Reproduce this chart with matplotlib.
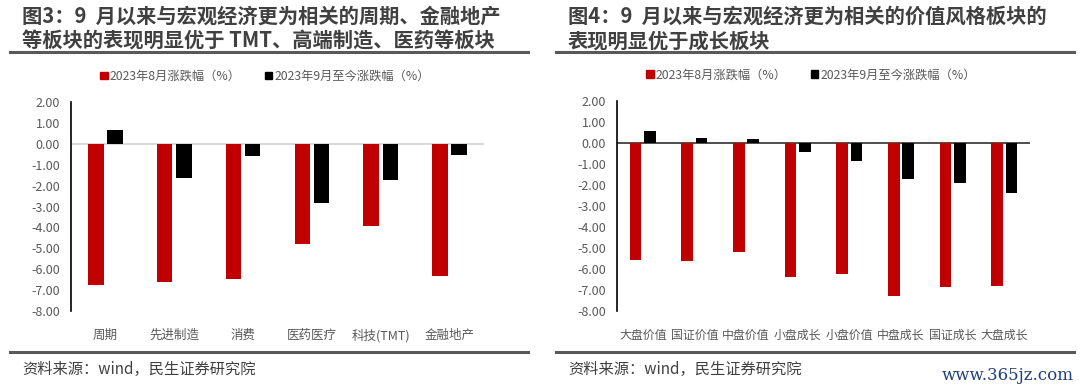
import matplotlib
matplotlib.use("Agg")
import matplotlib.pyplot as plt
from matplotlib.lines import Line2D
from matplotlib.patches import Patch
import numpy as np

plt.rcParams["font.family"] = ["Noto Sans CJK SC", "DejaVu Sans"]
plt.rcParams["axes.unicode_minus"] = False

# figure 3: sectors
sectors = ["周期", "先进制造", "消费", "医药医疗", "科技(TMT)", "金融地产"]
sector_aug = [-6.76, -6.64, -6.49, -4.81, -3.93, -6.33]
sector_sep = [0.69, -1.65, -0.58, -2.85, -1.74, -0.51]

# figure 4: styles
styles = ["大盘价值", "国证价值", "中盘价值", "小盘成长", "小盘价值", "中盘成长", "国证成长", "大盘成长"]
style_aug = [-5.59, -5.61, -5.18, -6.37, -6.25, -7.30, -6.85, -6.80]
style_sep = [0.59, 0.24, 0.18, -0.41, -0.87, -1.73, -1.92, -2.41]

yticks = [2, 1, 0, -1, -2, -3, -4, -5, -6, -7, -8]
legend_labels = ["2023年8月涨跌幅（%）", "2023年9月至今涨跌幅（%）"]

RED = "#c00000"
BLACK = "#000000"
GREY_TXT = "#595959"
TITLE_C = "#404040"
W, H = 1080, 390


def fx(px):
    return px / W


def fy(py):
    return 1 - py / H


def draw_panel(ax, cats, aug, sep, zero_color, zero_lw, label_size):
    x = np.arange(len(cats))
    bw = 0.225
    ax.bar(x - 0.14, aug, bw, color=RED, zorder=2)
    ax.bar(x + 0.14, sep, bw, color=BLACK, zorder=2)
    ax.axhline(0, color=zero_color, lw=zero_lw, zorder=1)
    ax.set_xlim(-0.5, len(cats) - 0.5)
    ax.set_ylim(-8, 2)
    ax.set_yticks(yticks)
    ax.set_yticklabels([f"{v:.2f}" for v in yticks], color=GREY_TXT, fontsize=9)
    ax.set_xticks(x)
    ax.set_xticklabels(cats, color=GREY_TXT, fontsize=label_size)
    ax.tick_params(axis="y", length=0, pad=8)
    ax.tick_params(axis="x", length=0, pad=13)
    for s in ["top", "right", "bottom"]:
        ax.spines[s].set_visible(False)
    ax.spines["left"].set_color("#000000")
    ax.spines["left"].set_linewidth(1.2)
    handles = [Patch(color=RED), Patch(color=BLACK)]
    leg = ax.legend(handles, legend_labels, loc="center", bbox_to_anchor=(0.47, 1.125),
                    ncol=2, frameon=False, fontsize=8.8, handlelength=0.6, handleheight=0.6,
                    handletextpad=0.15, columnspacing=2.0)
    for t in leg.get_texts():
        t.set_color(GREY_TXT)


fig = plt.figure(figsize=(10.8, 3.9), dpi=100)

ax1 = fig.add_axes([fx(71), fy(310.7), fx(413), fy(102.3) - fy(310.7)])
draw_panel(ax1, sectors, sector_aug, sector_sep, "#d9d9d9", 1.5, 9)

ax2 = fig.add_axes([fx(617), fy(310.7), fx(413), fy(101) - fy(310.7)])
draw_panel(ax2, styles, style_aug, style_sep, "#404040", 1.3, 8.6)

# titles
fig.text(fx(22), fy(16), "图3：9  月以来与宏观经济更为相关的周期、金融地产", fontsize=14.6,
         fontweight="bold", color=TITLE_C, va="center", ha="left")
fig.text(fx(22), fy(41), "等板块的表现明显优于 TMT、高端制造、医药等板块", fontsize=14.6,
         fontweight="bold", color=TITLE_C, va="center", ha="left")
fig.text(fx(568), fy(16), "图4：9  月以来与宏观经济更为相关的价值风格板块的", fontsize=14.6,
         fontweight="bold", color=TITLE_C, va="center", ha="left")
fig.text(fx(568), fy(41), "表现明显优于成长板块", fontsize=14.6,
         fontweight="bold", color=TITLE_C, va="center", ha="left")

# rules under titles and above sources
for x0, x1 in [(10, 528), (556, 1074)]:
    fig.add_artist(Line2D([fx(x0), fx(x1)], [fy(52), fy(52)], color="#595959", lw=2.2,
                          transform=fig.transFigure))
    fig.add_artist(Line2D([fx(x0), fx(x1)], [fy(352), fy(352)], color="#595959", lw=2.2,
                          transform=fig.transFigure))

# sources
fig.text(fx(22), fy(369), "资料来源：wind，民生证券研究院", fontsize=11, color=TITLE_C,
         va="center", ha="left")
fig.text(fx(568), fy(369), "资料来源：wind，民生证券研究院", fontsize=11, color=TITLE_C,
         va="center", ha="left")

# watermark
fig.text(fx(1074), fy(375), "www.365jz.com", fontsize=12, color="#1f3f7f",
         family=["DejaVu Serif"], va="center", ha="right")

fig.savefig("out.png", dpi=100)
